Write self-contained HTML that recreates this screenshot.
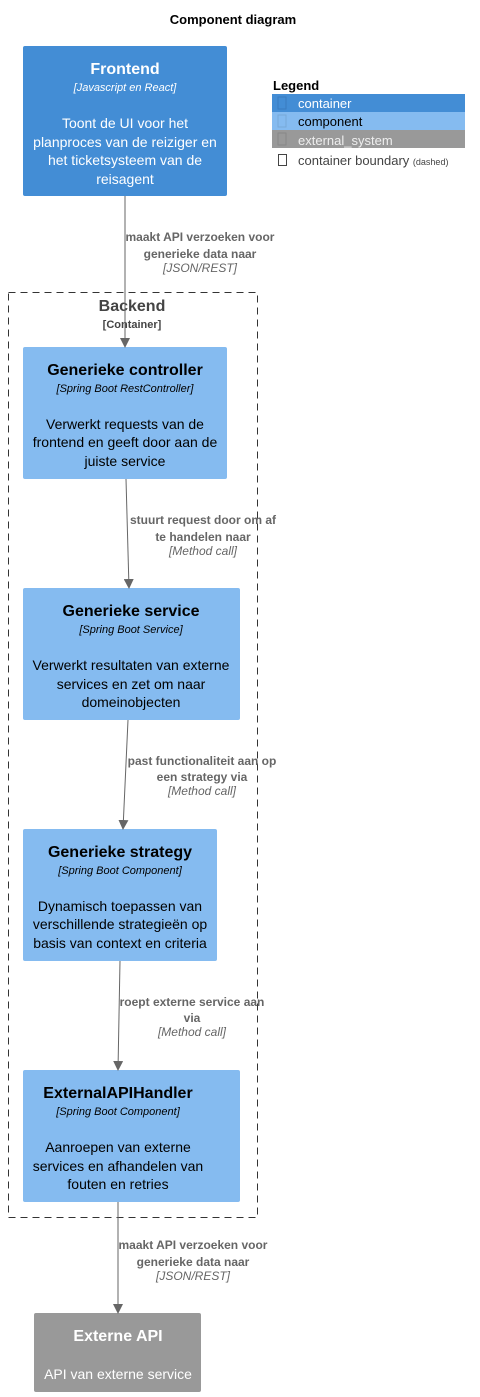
<!DOCTYPE html>
<html><head><meta charset="utf-8"><style>
html,body{margin:0;padding:0;background:#fff}
svg{display:block;font-family:"Liberation Sans",Arial,sans-serif}
</style></head><body>
<svg width="480" height="1397" viewBox="0 0 480 1397" xmlns="http://www.w3.org/2000/svg">
<defs><marker id="a" markerWidth="10" markerHeight="10" refX="9" refY="5" orient="auto" markerUnits="userSpaceOnUse"><path d="M0,0 L10,5 L0,10 Z" fill="#666"/></marker></defs>
<text x="233" y="24" text-anchor="middle" font-size="13" font-weight="bold" fill="#000">Component diagram</text>

<!-- Legend -->
<text x="273" y="90" font-size="13" font-weight="bold" fill="#000">Legend</text>
<rect x="272" y="94" width="193" height="18" fill="#438dd5"/>
<rect x="278" y="97" width="8" height="12" fill="none" stroke="#3a7cc0" stroke-width="1"/>
<text x="298" y="108" font-size="13" fill="#fff">container</text>
<rect x="272" y="112" width="193" height="18" fill="#85bbf0"/>
<rect x="278" y="115" width="8" height="12" fill="none" stroke="#78a8d8" stroke-width="1"/>
<text x="298" y="126" font-size="13" fill="#000">component</text>
<rect x="272" y="130" width="193" height="18" fill="#999"/>
<rect x="278" y="133" width="8" height="12" fill="none" stroke="#888" stroke-width="1"/>
<text x="298" y="145" font-size="13" fill="#eee">external_system</text>
<rect x="278.5" y="154.5" width="8" height="11" fill="none" stroke="#444" stroke-width="1"/>
<text x="298" y="165" font-size="13" fill="#444">container boundary <tspan font-size="9">(dashed)</tspan></text>

<!-- Boundary -->
<rect x="8.5" y="292.5" width="249" height="925" fill="none" stroke="#333" stroke-dasharray="7,5"/>
<text x="132" y="311" text-anchor="middle" font-size="16" font-weight="bold" fill="#444">Backend</text>
<text x="132" y="328" text-anchor="middle" font-size="11" font-weight="bold" fill="#444">[Container]</text>

<!-- Frontend -->
<rect x="23" y="46" width="204" height="150" rx="2" fill="#438dd5"/>
<g fill="#fff" text-anchor="middle">
<text x="125" y="74" font-size="16" font-weight="bold">Frontend</text>
<text x="125" y="91" font-size="11" font-style="italic">[Javascript en React]</text>
<text x="125" y="128" font-size="14">Toont de UI voor het</text>
<text x="125" y="147" font-size="14">planproces van de reiziger en</text>
<text x="125" y="165" font-size="14">het ticketsysteem van de</text>
<text x="125" y="184" font-size="14">reisagent</text>
</g>

<!-- Controller -->
<rect x="23" y="347" width="204" height="132" rx="2" fill="#85bbf0"/>
<g fill="#000" text-anchor="middle">
<text x="125" y="375" font-size="16" font-weight="bold">Generieke controller</text>
<text x="125" y="392" font-size="11" font-style="italic">[Spring Boot RestController]</text>
<text x="125" y="429" font-size="14">Verwerkt requests van de</text>
<text x="125" y="447" font-size="14">frontend en geeft door aan de</text>
<text x="125" y="466" font-size="14">juiste service</text>
</g>

<!-- Service -->
<rect x="23" y="588" width="217" height="132" rx="2" fill="#85bbf0"/>
<g fill="#000" text-anchor="middle">
<text x="131" y="616" font-size="16" font-weight="bold">Generieke service</text>
<text x="131" y="633" font-size="11" font-style="italic">[Spring Boot Service]</text>
<text x="131" y="670" font-size="14">Verwerkt resultaten van externe</text>
<text x="131" y="689" font-size="14">services en zet om naar</text>
<text x="131" y="707" font-size="14">domeinobjecten</text>
</g>

<!-- Strategy -->
<rect x="23" y="829" width="194" height="132" rx="2" fill="#85bbf0"/>
<g fill="#000" text-anchor="middle">
<text x="120" y="857" font-size="16" font-weight="bold">Generieke strategy</text>
<text x="120" y="874" font-size="11" font-style="italic">[Spring Boot Component]</text>
<text x="120" y="911" font-size="14">Dynamisch toepassen van</text>
<text x="120" y="929" font-size="14">verschillende strategieën op</text>
<text x="120" y="948" font-size="14">basis van context en criteria</text>
</g>

<!-- Handler -->
<rect x="23" y="1070" width="217" height="132" rx="2" fill="#85bbf0"/>
<g fill="#000" text-anchor="middle">
<text x="118" y="1098" font-size="16" font-weight="bold">ExternalAPIHandler</text>
<text x="118" y="1115" font-size="11" font-style="italic">[Spring Boot Component]</text>
<text x="118" y="1152" font-size="14">Aanroepen van externe</text>
<text x="118" y="1171" font-size="14">services en afhandelen van</text>
<text x="118" y="1189" font-size="14">fouten en retries</text>
</g>

<!-- Externe API -->
<rect x="34" y="1313" width="167" height="79" rx="2" fill="#999"/>
<g fill="#fff" text-anchor="middle">
<text x="118" y="1341" font-size="16" font-weight="bold">Externe API</text>
<text x="118" y="1379" font-size="14">API van externe service</text>
</g>

<!-- Arrows -->
<g stroke="#666" stroke-width="1" fill="none">
<line x1="125" y1="196" x2="125" y2="347" marker-end="url(#a)"/>
<line x1="126" y1="479" x2="129" y2="588" marker-end="url(#a)"/>
<line x1="128" y1="720" x2="123" y2="829" marker-end="url(#a)"/>
<line x1="120" y1="961" x2="118" y2="1070" marker-end="url(#a)"/>
<line x1="118" y1="1202" x2="118" y2="1313" marker-end="url(#a)"/>
</g>
<g fill="#666" text-anchor="middle" font-size="12">
<text x="200" y="241" font-weight="bold">maakt API verzoeken voor</text>
<text x="200" y="258" font-weight="bold">generieke data naar</text>
<text x="200" y="272" font-style="italic">[JSON/REST]</text>
<text x="203" y="524" font-weight="bold">stuurt request door om af</text>
<text x="203" y="541" font-weight="bold">te handelen naar</text>
<text x="203" y="555" font-style="italic">[Method call]</text>
<text x="202" y="765" font-weight="bold">past functionaliteit aan op</text>
<text x="202" y="781" font-weight="bold">een strategy via</text>
<text x="202" y="795" font-style="italic">[Method call]</text>
<text x="192" y="1006" font-weight="bold">roept externe service aan</text>
<text x="192" y="1022" font-weight="bold">via</text>
<text x="192" y="1036" font-style="italic">[Method call]</text>
<text x="193" y="1249" font-weight="bold">maakt API verzoeken voor</text>
<text x="193" y="1266" font-weight="bold">generieke data naar</text>
<text x="193" y="1280" font-style="italic">[JSON/REST]</text>
</g>
</svg>
</body></html>
